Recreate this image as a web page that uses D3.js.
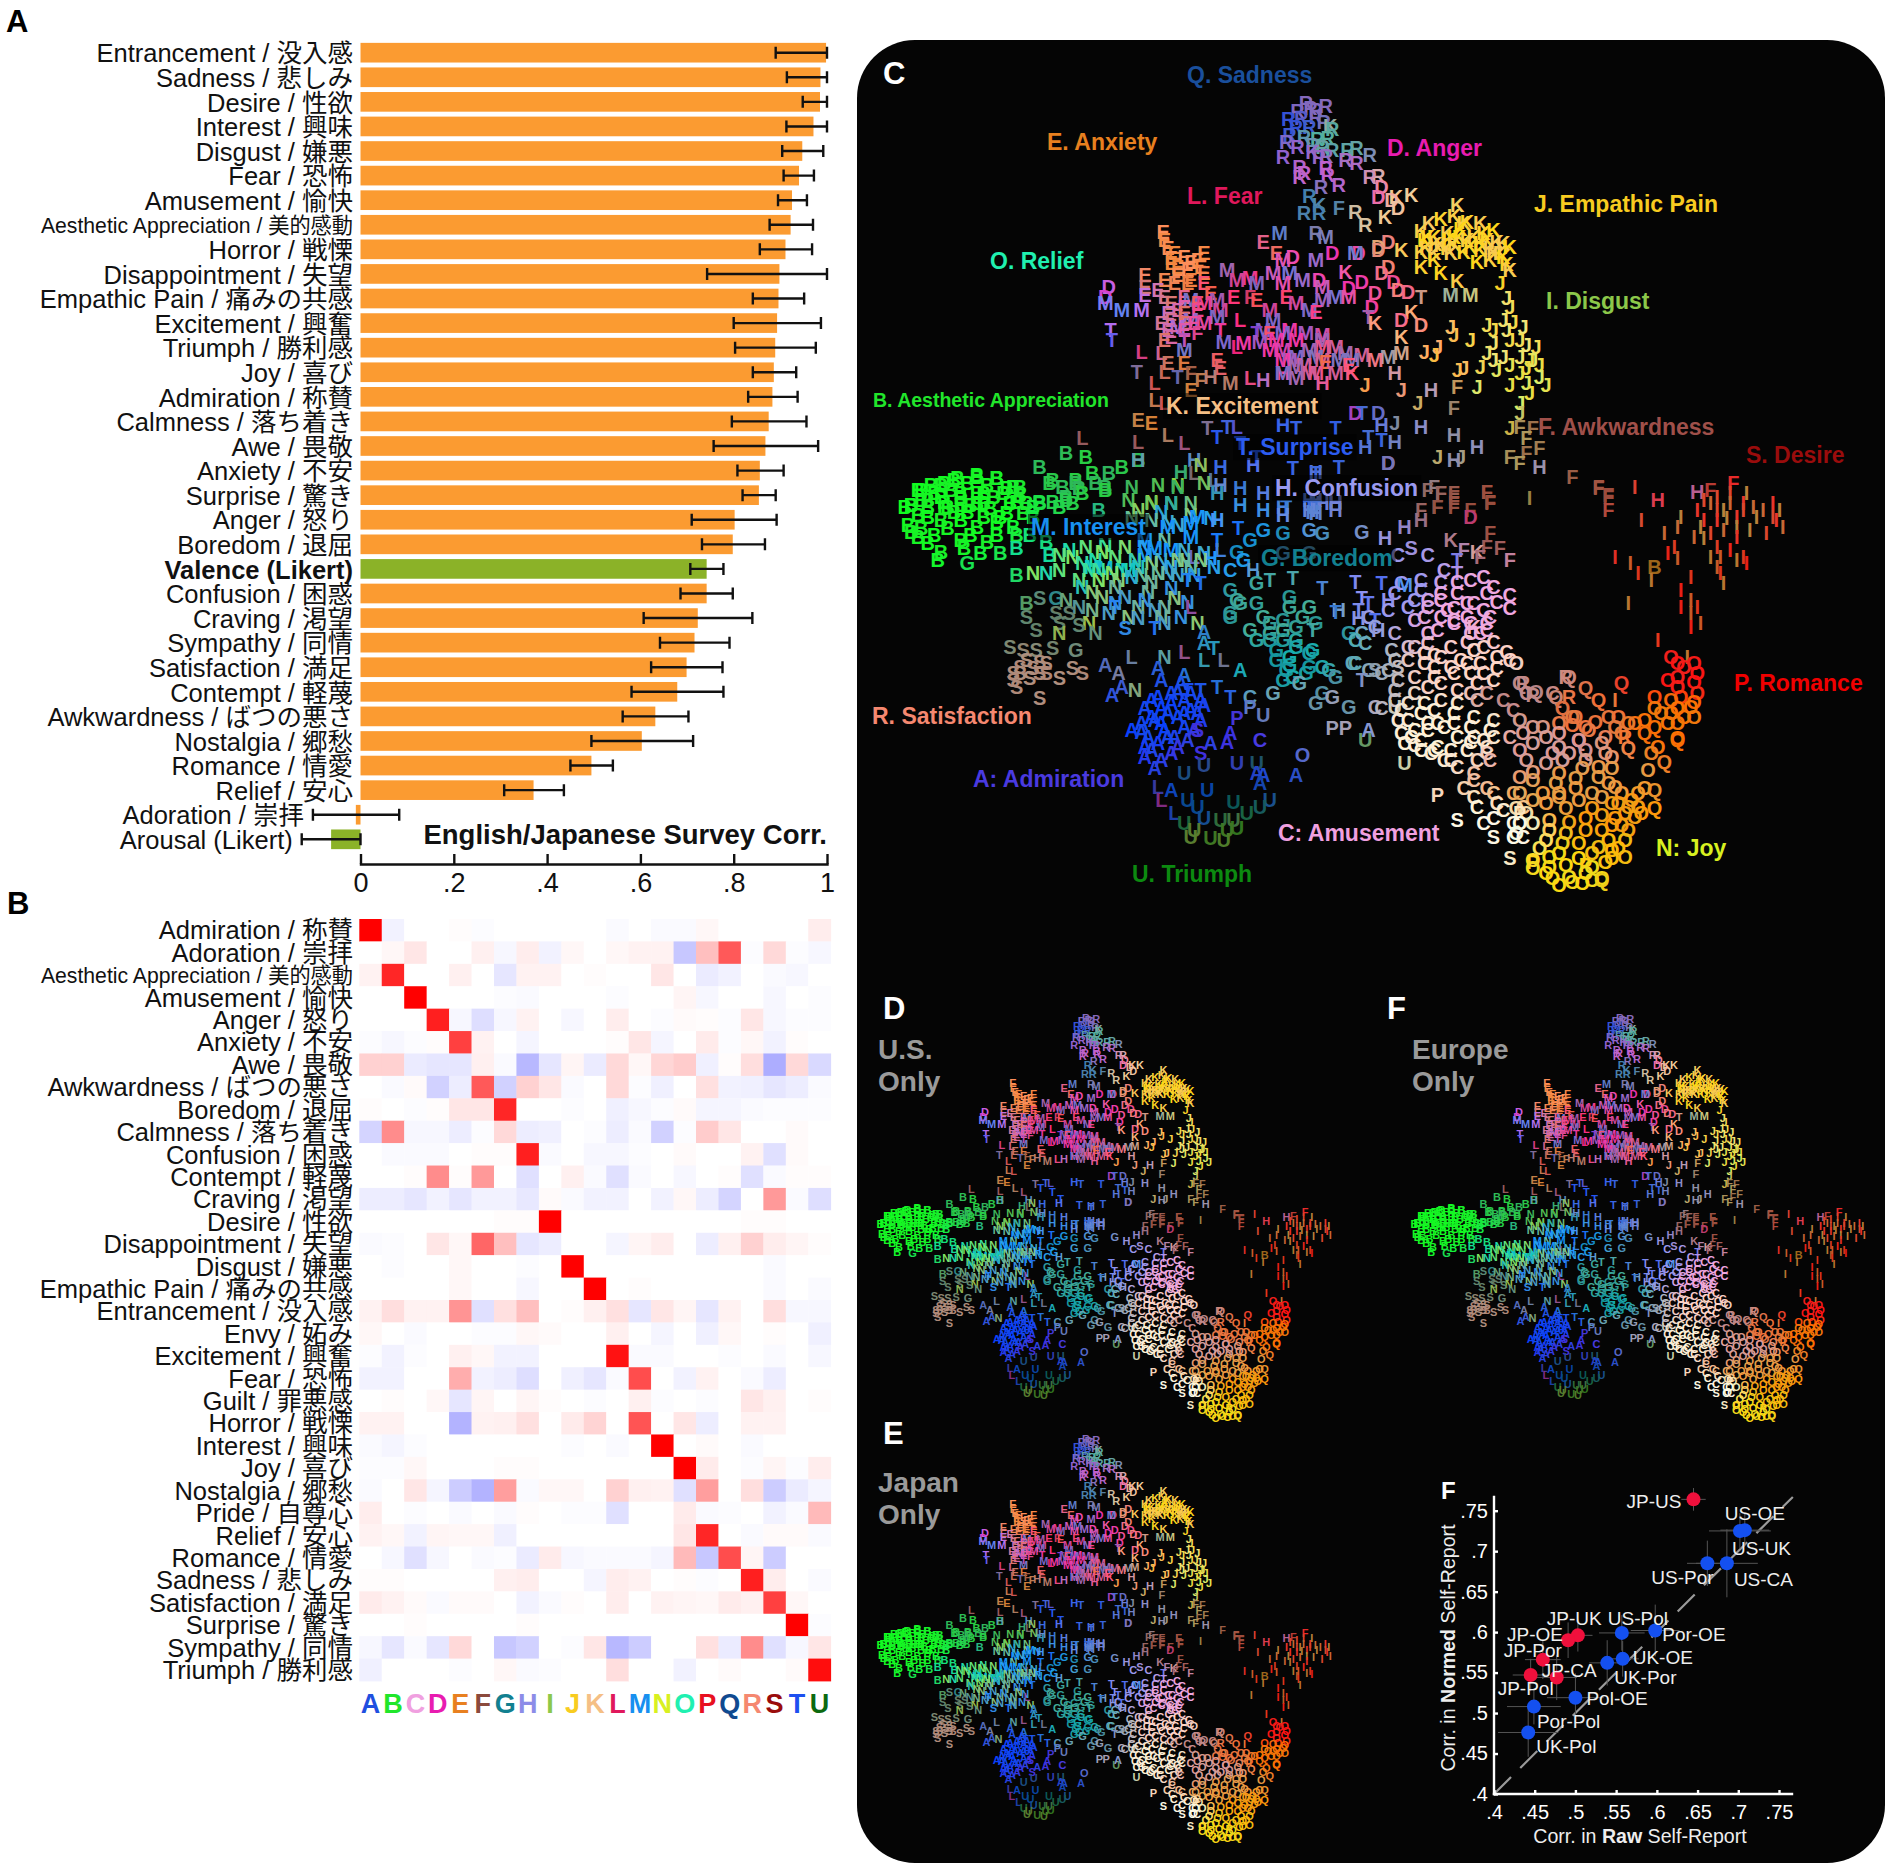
<!DOCTYPE html>
<html>
<head>
  <meta charset="UTF-8">
  <style>
    body { margin: 0; background: #fff; }
    svg { display: block; }
    text { font-family: "Liberation Sans", "Noto Sans CJK JP", sans-serif; }
    .domain { stroke-linecap: square; }
  </style>
  <script src="https://d3js.org/d3.v7.min.js"></script>
</head>
<body>
<svg id="fig" width="1890" height="1876"></svg>
<script>
// Panel A
const corrNames = ["Entrancement / 没入感","Sadness / 悲しみ","Desire / 性欲","Interest / 興味","Disgust / 嫌悪","Fear / 恐怖","Amusement / 愉快","Aesthetic Appreciation / 美的感動","Horror / 戦慄","Disappointment / 失望","Empathic Pain / 痛みの共感","Excitement / 興奮","Triumph / 勝利感","Joy / 喜び","Admiration / 称賛","Calmness / 落ち着き","Awe / 畏敬","Anxiety / 不安","Surprise / 驚き","Anger / 怒り","Boredom / 退屈","Valence (Likert)","Confusion / 困惑","Craving / 渇望","Sympathy / 同情","Satisfaction / 満足","Contempt / 軽蔑","Awkwardness / ばつの悪さ","Nostalgia / 郷愁","Romance / 情愛","Relief / 安心","Adoration / 崇拝","Arousal (Likert)"];
const corrVals = [.998,.986,.985,.971,.947,.94,.925,.922,.911,.898,.896,.893,.889,.886,.883,.875,.868,.856,.854,.802,.798,.742,.742,.723,.716,.699,.679,.632,.603,.495,.371,-.01,-.063];
const corrLow = [.89,.914,.948,.913,.904,.907,.895,.877,.856,.743,.841,.8,.803,.841,.831,.796,.757,.808,.819,.71,.732,.707,.686,.607,.642,.623,.581,.562,.495,.45,.308,-.102,-.126];
const corrHigh = [1,1,1,1,.992,.972,.957,.97,.968,1,.951,.987,.976,.934,.937,.956,.981,.907,.89,.892,.867,.778,.798,.84,.791,.776,.778,.703,.713,.541,.436,.083,0];
const corrTicks = [0,.2,.4,.6,.8,1];

// Panel B
const rowNames = ["Admiration / 称賛","Adoration / 崇拝","Aesthetic Appreciation / 美的感動","Amusement / 愉快","Anger / 怒り","Anxiety / 不安","Awe / 畏敬","Awkwardness / ばつの悪さ","Boredom / 退屈","Calmness / 落ち着き","Confusion / 困惑","Contempt / 軽蔑","Craving / 渇望","Desire / 性欲","Disappointment / 失望","Disgust / 嫌悪","Empathic Pain / 痛みの共感","Entrancement / 没入感","Envy / 妬み","Excitement / 興奮","Fear / 恐怖","Guilt / 罪悪感","Horror / 戦慄","Interest / 興味","Joy / 喜び","Nostalgia / 郷愁","Pride / 自尊心","Relief / 安心","Romance / 情愛","Sadness / 悲しみ","Satisfaction / 満足","Surprise / 驚き","Sympathy / 同情","Triumph / 勝利感"];
const colLetters = "ABCDEFGHIJKLMNOPQRSTU".split("");
const colColors = ["#1f4fe0","#21e62b","#f0a0e0","#e81cb0","#e88020","#8b4a3c","#128090","#8c8ce8","#8cc84a","#f8cc20","#f5bf85","#e0185c","#1890f0","#d8f020","#20f0b0","#e81020","#104a90","#f58870","#9a0c0c","#1c50f0","#0c6a10"];
const matrix = [
[1,-.05,0,0,.01,-.01,0,0,0,0,0,-.02,0,-.02,-.02,.03,0,0,0,0,.07],
[0,.03,.1,0,0,.06,-.03,.07,-.05,.03,0,.03,.05,.05,-.22,.25,.65,-.01,.15,-.01,-.03],
[.05,.85,0,0,.06,0,-.1,.05,.05,0,.01,0,0,.1,0,-.08,-.05,0,-.02,-.03,0],
[0,0,1,0,0,0,-.01,-.02,0,0,0,-.01,0,0,.04,-.03,0,0,-.03,0,-.01],
[0,0,0,.88,-.03,-.13,-.03,.05,0,-.03,0,.07,0,-.01,.02,.01,-.01,.1,-.03,-.01,-.01],
[-.01,-.03,-.01,.01,.75,.05,0,-.04,0,0,0,.01,.1,-.04,0,.08,-.01,.03,-.05,.01,0],
[.18,.18,-.08,-.1,-.1,.06,-.02,-.28,-.1,.04,-.08,.15,.03,.16,.2,-.06,.01,.13,-.32,.15,-.15],
[0,-.02,.02,-.18,-.07,.65,-.18,.18,.1,-.02,0,.15,-.01,-.06,0,.12,-.05,-.06,-.1,-.07,-.02],
[.01,0,-.01,.01,.1,.1,.85,0,0,-.01,0,-.06,-.03,-.01,.02,-.04,-.04,-.02,-.01,-.01,-.01],
[-.17,.45,-.03,-.03,-.07,-.01,.15,-.07,-.06,0,-.01,-.07,-.02,-.18,-.01,.2,.1,0,0,.02,0],
[0,-.02,-.02,-.02,0,.01,.01,.88,-.02,0,-.03,-.03,-.01,0,.02,0,0,.05,-.12,.02,0],
[0,0,.01,.45,.01,.4,0,-.12,0,.06,-.02,-.12,-.02,0,-.03,0,.01,-.12,-.02,.01,.01],
[-.07,-.07,-.1,-.05,-.1,-.05,-.05,-.09,.02,-.02,-.05,-.05,0,-.05,.03,-.07,-.17,0,.4,-.02,-.13],
[0,0,0,0,0,0,.01,.01,1,0,0,0,0,0,0,0,0,.01,.01,0,0],
[-.02,-.01,0,.1,.03,.6,.25,-.1,-.07,0,0,-.04,.04,.07,0,-.07,.06,.18,.07,.04,.01],
[0,-.01,0,0,.03,0,0,-.01,0,1,0,0,0,0,0,0,0,0,-.02,0,0],
[0,0,0,0,.03,0,0,-.03,0,0,1,0,.01,0,0,0,0,0,-.02,0,-.02],
[.05,.13,.05,.05,.42,-.12,.12,.25,0,.01,.06,.12,-.1,.1,.04,-.1,.05,0,.13,-.03,-.03],
[.03,0,-.02,0,0,-.01,-.01,.03,.02,0,0,.06,0,-.04,0,-.06,.03,0,.01,0,-.06],
[-.01,-.05,-.01,0,.06,.03,-.05,-.05,0,0,0,.93,-.02,-.02,0,0,-.01,0,-.02,0,-.03],
[-.05,-.05,0,0,.32,-.05,-.07,-.13,0,-.06,-.1,-.02,.7,0,-.05,.05,0,-.02,-.07,0,0],
[0,.01,0,.03,-.1,.04,0,.04,.01,0,-.01,0,.06,-.01,0,-.01,0,.1,.06,0,.01],
[.05,.05,0,0,-.3,.05,.06,.12,0,.08,.17,0,.67,0,.1,-.07,0,.05,.05,0,0],
[-.02,-.04,-.01,0,0,0,0,0,0,-.01,0,-.02,0,1,0,.02,0,-.02,0,0,0],
[-.01,-.01,.03,0,0,0,.01,.01,0,0,0,0,0,0,1,.08,0,-.01,.04,-.01,.07],
[-.02,0,.1,-.04,-.2,-.3,.38,-.02,.03,.03,0,.18,.06,.05,-.12,.38,0,.13,-.2,-.08,-.04],
[.07,0,-.01,0,-.02,0,-.02,.01,0,-.01,-.01,-.12,0,0,.08,-.02,-.01,0,-.05,-.02,.27],
[.05,.03,-.05,.04,.03,.03,-.06,0,0,0,0,0,0,0,.1,.85,0,-.02,.02,.02,-.02],
[0,-.03,-.12,-.03,0,-.02,-.01,-.08,.08,-.03,-.02,-.02,-.02,-.04,.27,-.22,.7,.04,-.2,0,0],
[.01,.01,0,0,0,0,.06,.07,0,0,-.04,.07,.05,0,.01,-.01,0,.88,.07,0,-.02],
[.08,.05,.02,-.02,.02,.02,0,-.05,-.02,.01,0,.07,0,.05,.04,.03,.08,.06,.75,.03,0],
[0,0,.01,0,0,0,0,.01,0,0,0,0,0,0,0,0,0,0,0,1,-.01],
[-.03,-.1,-.02,-.1,.15,0,-.22,-.18,0,-.01,.1,-.28,-.2,0,0,.12,-.08,.45,-.12,-.03,.1],
[-.06,0,0,0,-.01,0,.03,-.02,-.01,0,0,.13,0,0,-.05,0,.02,0,0,.02,.95]
];

// Panel C map, points read letter by letter. u,v pairs; "low" lists came off the lower crop, v shifted by lowShift
const lowShift = 1260;
const upB = [310,1240,340,1250,270,1280,290,1320,325,1330,350,1300,375,1300,395,1280,420,1260,370,1350,330,1345,310,1380,270,1390,240,1340,205,1315,175,1310,140,1320,120,1335,90,1350,150,1360,185,1360,215,1360,75,1395,100,1380,130,1400,165,1395,185,1390,235,1385,260,1400,300,1400];
const lowB = [85,90,105,75,125,70,145,55,175,45,205,55,230,80,240,105,220,85,190,75,160,70,135,90,110,100,90,120,75,135,100,140,125,125,150,110,175,100,200,110,225,130,250,130,270,125,245,160,210,170,185,170,160,155,140,155,150,180,175,200,205,185,120,180,100,170,85,165,70,195,90,205,110,225,85,230,100,250,120,275,115,300,150,240,180,280,210,280,235,265,155,265,255,225,235,225,205,225,280,245,285,285,75,215,65,140,125,145,260,170,320,130,360,150,285,70,305,80,325,60,355,70,290,125,310,110,335,100,370,80,1205,320,250,430,235,345,120,110,150,135,175,130,195,145,220,160,130,205,165,225,190,245,230,200];
const upR = [675,190,682,205,705,198,662,212,690,232,648,238,702,245,660,262,715,268,650,285,645,305,692,298,708,295,662,322,700,322,640,350,706,348,738,330,752,325,772,345,735,360,752,368,665,382,705,385,672,400,708,405,665,412,725,435,698,442,680,468,772,410,785,408,750,515,695,518,672,518,765,555,690,580,690,210,668,235,680,260,672,290,685,315,695,350,715,330];
const lowR = [1005,670,1070,650,1075,710,1020,705,1160,830];
const upK = [685,335,712,258,835,465,812,470,695,495,795,530,905,495,862,548,880,538,900,528,920,545,940,550,960,570,850,572,870,590,890,578,910,568,930,590,950,600,975,608,855,600,900,612,925,622,970,640,985,622,850,635,870,660,895,640,935,665,955,660,980,672,985,690,880,700,905,722,850,680,820,630,735,695,780,850,835,815,820,890,745,1000,915,548,945,578,965,605,892,600,872,612,940,610,955,625,908,590,858,625,860,590,880,615,900,590,920,600,940,630,960,640,975,650,890,625,915,635,870,640];
const lowK = [895,240,935,275,930,500];
const upD = [790,440,805,480,785,470,815,505,800,605,785,630,715,640,655,650,755,640,800,680,808,725,790,700,760,725,695,720,740,745,815,750,830,755,780,760,775,800,785,620,820,840,850,855,750,1118,785,1118,800,1270,375,740,370,770];
const lowD = [800,10,925,170];
const upT = [850,770,380,900,378,870,418,995,490,900,600,880,545,870,770,830,525,1165,540,1190,555,1160,575,1210,660,1165,720,1165,655,1285,725,1280,690,1300,600,1250,770,1190,790,1200,760,1120,480,1010];
const lowT = [645,140,680,140,690,140,572,205,655,355,700,385,750,365,790,370,760,415,770,430,755,450,720,455,620,360,540,240,495,360,515,370,385,440,445,505,535,565,495,690,515,690,540,680,760,660,560,710,685,510,905,300,905,340,780,480];
const upM = [635,580,705,590,750,640,640,660,555,690,625,700,650,700,590,715,690,660,545,810,395,810,425,810,370,790,620,810,625,840,650,870,675,880,700,885,550,905,580,910,605,905,640,930,660,950,700,920,735,940,760,945,490,930,560,1030,660,1015,720,1000,640,1000,690,1000,650,960,672,975,690,950,620,930,895,765,925,765,640,880,660,900,680,930,700,960,725,960,640,960,660,980,680,1000,610,870,630,900,700,900,720,920,745,960,780,960,800,950,820,940,540,830,520,850,500,840,480,860,500,780,520,790,540,780,570,720,600,730,640,730,670,720,700,740,720,770,740,770,700,780,660,790,680,810];
const lowM = [500,190,465,200,510,170,430,285,405,330,370,325,430,240,445,265,470,270,500,230,350,320,825,375];
const upE = [610,605,630,640,458,575,460,600,465,625,475,640,490,650,520,640,510,660,470,670,495,690,520,700,430,705,430,740,430,765,460,770,490,770,530,760,565,770,600,780,480,810,490,820,510,810,470,840,465,870,460,900,490,870,540,960,545,985,490,970,465,970,500,1050,420,1140,440,1150,690,815,620,880,645,770,705,965,740,975,475,730,470,655,480,680,500,665,515,680,480,705,500,720,520,730,460,720,450,750,470,790,490,800,510,790,465,820,490,850,505,850,455,850,470,890,495,730];
const upL = [425,935,455,940,445,1030,460,995,420,1205,465,1185,490,1210,570,1160,335,1195,445,1080,460,1090,575,840,570,920,590,1015,505,1300,535,1320];
const lowL = [490,575,520,600,505,290,545,270,500,440,410,590,550,600,450,980,455,1020,475,1060];
const upF = [725,505,590,770,510,880,500,1000,515,1020,900,1105,1000,1160,1020,1165,1010,1195,1030,1225,985,1250,1010,1240,1000,1270,1080,1310,1120,1340,1135,1365,870,1340,880,1360,900,1360,950,1355,955,1385,900,1400,875,1400,1290,1350,1325,1330,905,1040];
const lowF = [1120,85,1135,110,1135,150,860,90,880,100,900,110,950,95,955,130,900,130,875,140,850,150,925,150,955,220,950,260,915,270,970,265,985,300,940,290];
const upH = [700,1030,610,1020,640,1000,810,1000,530,1010,865,1050,640,1155,790,1155,810,1205,850,1160,900,1185,935,1220,900,1260,1030,1280,545,1280,595,1275,690,1295,420,1260,485,1295,505,1260,765,1220,545,1335,575,1345,610,1360,640,1400,690,1380,720,1385,680,1410,1210,1380,1270,1355];
const lowH = [540,100,540,180,610,150,640,165,685,155,720,150,575,135,825,200,795,235,725,450,785,510,755,475,530,295,595,330,850,180,800,420,680,120,700,130,690,160,720,130];
const upJ = [970,730,980,775,985,800,975,840,990,845,1005,860,950,855,895,860,925,900,875,920,900,885,960,910,985,900,1010,915,1025,920,1000,950,1015,960,960,960,940,980,965,990,1000,1000,1030,1010,1040,1035,1010,1030,985,1035,935,1040,905,990,915,985,765,1035,820,1050,845,1090,855,935,870,945,1000,1090,875,1250,910,1250,1015,1060,1000,1120,985,1165,810,1150,960,870,980,870,1000,900,1020,960,1030,975,975,950,985,975,950,940,1010,985];
const lowI = [1175,80,1015,115,1185,180,1245,170,1270,150,1290,130,1300,110,1345,100,1385,130,1320,130,1340,150,1360,170,1390,180,1400,200,1375,220,1330,200,1300,180,1265,230,1235,260,1280,235,1225,280,1240,295,1300,260,1330,300,1345,310,1300,320,1260,350,1310,370,1245,390,1260,420,1270,440,1165,430,1145,290,1168,310,1180,340,1200,360,1260,500,1275,490,1210,540,1255,590,1145,720,1220,220,1280,120,1310,150,1330,170,1355,140,1320,100,1350,210,1280,180,1240,200,1305,340,1290,290,1245,440,1260,460,1300,150,1315,175,1340,130,1370,150,1385,170,1395,150,1330,230,1310,210,1290,220,1275,200,1320,270,1305,290,1340,290];
const upN = [410,1340,440,1390,470,1390,515,1275,480,1340,520,1330];
const lowN = [405,120,440,125,470,130,500,130,465,185,500,165,530,175,410,175,450,75,480,75,315,270,340,260,370,255,400,260,430,260,460,240,490,270,320,290,355,300,385,290,415,300,440,310,470,320,500,320,345,330,380,340,410,350,440,365,465,340,360,360,335,380,385,380,310,420,350,395,385,430,420,440,445,450,475,415,495,425,455,470,420,475,345,490,355,520,300,520,460,490,510,490,485,470,490,300,520,280,260,340,280,340,300,330,460,590,415,690,535,320,440,180,480,195,420,150,455,155,300,285,335,310,365,275,395,330,425,345,455,300,480,300,505,345,330,360,360,330,390,360,420,320,450,340,480,345,515,300,470,385,435,395,400,410,365,410,330,440,350,450,375,460,405,470,430,420,460,440];
const lowG = [160,310,590,240,610,210,640,220,680,210,700,220,760,215,570,275,640,280,680,280,600,370,650,410,680,440,560,390,575,430,560,470,590,510,620,490,650,440,690,490,640,510,600,430,670,470,630,570,650,590,680,580,700,620,720,650,715,710,740,740,710,630,645,630,625,700,690,730,650,615,700,700,685,570,560,460,570,420,740,520,580,300,620,540,660,540,295,415,325,570,640,540,660,560,630,600,655,650,675,640,620,520,640,480,610,470,660,500,600,540,680,620,665,670,640,660];
const lowC = [860,285,885,330,850,360,880,365,905,365,925,360,945,350,815,285,810,400,850,390,880,420,830,440,860,440,900,445,930,430,965,425,985,405,985,445,945,450,920,470,900,490,875,510,840,480,810,520,860,520,925,520,950,510,955,470,945,560,965,590,985,600,930,570,910,600,860,550,830,600,855,610,800,630,770,630,745,610,750,540,765,550,805,570,870,620,900,640,945,640,960,660,810,720,840,700,860,680,880,670,905,690,935,720,870,750,900,760,930,770,960,780,820,750,860,790,835,830,860,810,820,820,885,800,930,830,960,830,895,870,870,870,905,920,930,940,950,880,985,830,990,750,975,720,1010,700,1050,700,780,740,790,745,590,710,750,610,840,855,850,870,865,880,885,900,925,845,950,860,605,840,560,330,840,560,870,585,895,560,920,545,940,520,960,545,980,575,965,625,940,610,925,640,880,590,855,580,830,560,810,600,790,640,815,660,840,650,870,650,895,620,920,610,935,670,950,700,925,700,905,730,880,720,855,730,830,730,810,690,830,780,850,760,875,790,900,790,925,800,955,810,945,840,920,870,895,900,875,860,850,840,825,850,815,780,840,810,905,830,935,900,955,900,900,480,925,490,950,490,880,470,855,470,880,400,905,400,950,400,960,380,860,420,920,430,890,450,840,420,820,370,800,450,770,470,780,500,760,520,930,960,950,985,960,1000,975,1050,990,1090,960,1075,935,1040,945,1090,990,1130,1005,1130,990,1000,1005,1040,930,1010,965,1030,915,985];
const lowS = [270,415,295,460,250,470,265,510,225,560,245,570,265,570,290,565,320,625,335,640,270,605,260,625,240,640,280,640,300,655,235,680,270,715,230,660,400,505,300,490,330,495,315,460,515,880,510,810,960,1130,985,1195,905,1080,835,265,815,620,780,630,250,600,270,640,280,610,240,620,255,655,230,640];
const lowO = [1000,780,1020,850,1000,870,1040,830,1060,790,1080,770,1100,800,1020,800,1090,840,1125,850,1140,890,1010,900,1050,880,1065,900,1130,880,1095,925,1060,940,1020,960,1000,950,1120,950,1135,970,1055,970,1085,985,1110,1000,1145,980,1020,1020,1040,1030,1070,1045,1110,1045,1140,1030,1170,1020,1160,1060,1145,1075,1175,1070,1140,1095,1165,1110,1135,1140,1160,1140,1140,1170,1160,1190,1130,1205,1110,1220,1090,1195,1060,1180,1090,1150,1070,1120,1045,1110,1010,1060,995,1045,995,1120,1020,1200,1045,1220,1050,1255,1075,1250,1095,1270,1125,1255,1100,1110,1000,1000,1190,985,1195,930,1210,860,1200,880,1240,835,1240,790,1230,760,1205,745,1245,710,1270,700,1260,740,1240,650,1265,665,1265,610,1240,610,1230,590,1175,790,1135,770,1150,770,1165,790,1080,795,1105,810,995,610,670,885,1035,1000,1060,1010,1090,1020,1125,1010,1155,1000,1180,1040,1150,1030,1125,1065,1100,1075,1075,1085,1045,1080,1020,1090,1000,1090,1155,1095,1125,1110,1120,1160,1150,1165,1110,1180,1140,1195,1100,1240,1070,1215,1045,1190,1030,1165,1065,1150,1040,1140,1080,1265,1060,1275,1110,1260,1040,1240,1020,1225,1180,1000,1165,1040,1185,1060,1060,860,1075,880,1100,900,1120,920,1040,910,1020,935,1085,955,1060,1000,1140,925,1005,820,1035,800,1060,820,1085,770,1115,785,1145,800,1130,830,1155,820,1190,780,1215,760,1205,710,1230,720,1250,770,1265,770,1240,745,1225,790,1270,640,1250,620,1265,725,1240,680,1225,660];
const lowQ = [1155,670,1120,720,1100,685,1075,650,1065,745,1055,710,1025,695,1000,670,1205,990,1205,1045,1220,905,1240,840,1125,1260,1165,865,1190,820,1205,800,1100,870,1090,840];
const lowP = [875,1005,715,805,735,805,590,740,570,775,1000,1060,1100,1215,1020,1205];
const lowU = [610,765,520,915,570,910,600,910,525,990,490,940,495,1020,565,1025,620,1020,605,1040,510,1040,490,1090,520,1075,545,1080,565,1080,585,1060,500,1130,530,1135,550,1140,570,1105,505,1110,555,1110,825,910,765,840,810,740];
const lowA = [390,640,380,705,395,680,370,615,575,630,520,515,520,550,450,625,490,645,455,660,485,670,430,745,455,745,490,720,520,735,425,790,455,790,480,770,515,780,435,830,460,810,490,800,470,880,440,870,430,860,445,925,470,990,610,945,605,970,660,945,600,940,530,850,555,845,770,810,500,700,470,700,560,820,510,760,450,710,480,695,440,770,465,760,500,750,425,815,450,850,475,830,505,810,495,840,430,890,455,900,480,860,445,780,470,730,490,760,440,720,465,830,410,810,515,720];
const mapSets = [["A",[],lowA],["B",upB,lowB],["C",[],lowC],["D",upD,lowD],["E",upE,[]],["F",upF,lowF],["G",[],lowG],["H",upH,lowH],["I",[],lowI],["J",upJ,[]],["K",upK,lowK],["L",upL,lowL],["M",upM,lowM],["N",upN,lowN],["O",[],lowO],["P",[],lowP],["Q",[],lowQ],["R",upR,lowR],["S",[],lowS],["T",upT,lowT],["U",[],lowU]];

// regional tint of the cloud
const tintAt = [[650,250,"#3050d8"],[680,210,"#8068c0"],[705,300,"#50b0a0"],[670,340,"#9060d0"],[700,400,"#c060d0"],[680,480,"#4080b0"],[800,480,"#f0d0a0"],[920,600,"#ffd810"],[980,900,"#f0e880"],[1020,1020,"#d8f070"],[470,650,"#ff9060"],[380,780,"#c070f0"],[650,700,"#f050b0"],[600,750,"#ff3080"],[650,920,"#ff30a0"],[700,950,"#ff5080"],[860,930,"#ffa870"],[500,1100,"#c08050"],[600,1200,"#3060f0"],[720,1200,"#4a70d0"],[900,1230,"#9090a0"],[1000,1220,"#b0a060"],[1300,1380,"#f02828"],[1000,1380,"#a05040"],[130,1420,"#10ff20"],[400,1300,"#30b060"],[350,1560,"#10d8b8"],[470,1510,"#1898ff"],[420,1680,"#2888f0"],[270,1760,"#608870"],[250,1900,"#b09080"],[460,2060,"#0840ff"],[510,2100,"#4030e0"],[520,2300,"#0840b0"],[540,2380,"#608030"],[640,1720,"#48b098"],[650,1880,"#18b0b0"],[700,1960,"#a0a0b8"],[800,1650,"#9898f0"],[920,1700,"#f0a8e0"],[940,1900,"#ffd8c8"],[900,2060,"#fff4d8"],[950,2400,"#fffce8"],[1050,2120,"#e09898"],[1100,2240,"#f09840"],[1150,2340,"#ff9808"],[1080,2480,"#ffd810"],[1140,2420,"#ffb808"],[1240,2040,"#ff7000"],[1250,1900,"#ff1010"],[1100,2020,"#f07038"],[1000,1960,"#c08888"],[1270,1650,"#f01010"]];
const letterMix = [.08,.4,.2,.55];
const quietLetters = "OQCRSP";

const clusterNames = ["Q. Sadness","E. Anxiety","D. Anger","L. Fear","J. Empathic Pain","O. Relief","I. Disgust","B. Aesthetic Appreciation","K. Excitement","F. Awkwardness","T. Surprise","S. Desire","H. Confusion","M. Interest","G. Boredom","P. Romance","R. Satisfaction","A: Admiration","C: Amusement","N: Joy","U. Triumph"];
const clusterColors = ["#1a4f9c","#e8801f","#e81cb0","#e0185c","#f8cc20","#20f0b0","#8cc84a","#21e62b","#f5bf85","#a0504a","#2c5cf0","#9a0c0c","#9a9af0","#1890f0","#128090","#f00000","#f58870","#4a3ae0","#f0a0e0","#d8f020","#0c8a10"];
const clusterX = [1187,1047,1387,1187,1534,990,1546,873,1166,1538,1236,1746,1275,1031,1261,1734,872,973,1278,1656,1132];
const clusterY = [75,142,148,196,204,261,301,400,406,427,447,455,488,527,558,683,716,779,833,848,874];
const hazed = ["K. Excitement","T. Surprise","H. Confusion","M. Interest","G. Boredom"];

// Inset scatter
const pairNames = ["JP-US","US-OE","US-UK","US-Por","US-CA","JP-UK","JP-OE","US-Pol","Por-OE","UK-OE","UK-Por","JP-Por","JP-CA","JP-Pol","Pol-OE","Por-Pol","UK-Pol"];
const rawCorr = [.645,.708,.702,.662,.686,.503,.491,.557,.598,.558,.539,.46,.477,.445,.5,.449,.442];
const normCorr = [.764,.726,.725,.685,.685,.596,.59,.599,.602,.567,.562,.566,.544,.547,.519,.508,.476];
const rawErr = [.015,.03,.038,.025,.038,.018,.015,.028,.03,.02,.022,.022,.025,.022,.035,.033,.037];
const normErr = [.014,.02,.022,.028,.042,.02,.022,.022,.032,.022,.028,.024,.028,.02,.03,.022,.03];
const labelDx = [-67,-20,-8,-56,7,-31,-61,-14,7,10,7,-39,-15,-33,11,3,8];
const labelDy = [2,-17,17,14,16,-17,-6,-15,4,-1,14,-9,-7,13,1,15,14];
const scatterTicks = [.4,.45,.5,.55,.6,.65,.7,.75];

const svg = d3.select("#fig");
const shortNum = d => String(d).replace("0.", ".");

function panelLetter(txt, x, y, col, size) {
  svg.append("text").attr("x", x).attr("y", y).attr("fill", col)
    .attr("font-weight", "bold").attr("font-size", size).text(txt);
}
panelLetter("A", 6, 32, "#000", 31);
panelLetter("B", 7, 914, "#000", 31);

// ---- A: bars ----
const corrX = d3.scaleLinear().domain([0, 1]).range([360.5, 827]);
const corrY = d3.scaleBand().domain(corrNames).range([40.4, 851.6]).paddingInner(.2).paddingOuter(.1);
const corrG = svg.append("g");

corrG.selectAll("rect").data(corrNames).enter().append("rect")
  .attr("x", (d, i) => Math.min(corrX(0), corrX(corrVals[i])))
  .attr("y", d => corrY(d))
  .attr("width", (d, i) => Math.abs(corrX(corrVals[i]) - corrX(0)))
  .attr("height", corrY.bandwidth())
  .attr("fill", d => d.includes("Likert") ? "#8bb228" : "#fb9b31");

corrNames.forEach((d, i) => {
  const mid = corrY(d) + corrY.bandwidth() / 2;
  const lo = corrX(corrLow[i]), hi = corrX(corrHigh[i]);
  corrG.append("path")
    .attr("d", `M${lo},${mid}H${hi}M${lo},${mid - 6}V${mid + 6}M${hi},${mid - 6}V${mid + 6}`)
    .attr("fill", "none").attr("stroke", "#111").attr("stroke-width", 2.4);
  corrG.append("text")
    .attr("x", i >= 31 ? lo - 9 : 353).attr("y", mid).attr("dy", "0.38em")
    .attr("text-anchor", "end")
    .attr("font-size", d.startsWith("Aesthetic") ? 21.2 : 25.5)
    .attr("font-weight", d.startsWith("Valence") ? "bold" : "normal")
    .attr("fill", "#111").text(d);
});

svg.append("g").attr("transform", "translate(0,864)")
  .call(d3.axisBottom(corrX).tickValues(corrTicks).tickFormat(shortNum).tickSize(-10).tickSizeOuter(0).tickPadding(9))
  .call(g => g.selectAll("path,line").attr("stroke", "#111").attr("stroke-width", 2.4))
  .call(g => g.selectAll("text").attr("font-size", 27).attr("fill", "#111").attr("font-family", null));

svg.append("text").attr("x", 827).attr("y", 844).attr("text-anchor", "end")
  .attr("font-size", 27.5).attr("font-weight", "bold").attr("fill", "#111").text("English/Japanese Survey Corr.");

// ---- B: heat map ----
const cellX = d3.scaleBand().domain(colLetters).range([359.3, 830.7]);
const cellY = d3.scaleBand().domain(rowNames).range([919, 1681]);
const heat = d3.scaleLinear().domain([-1, 0, 1]).range(["#0000ff", "#ffffff", "#ff0000"]);
const heatG = svg.append("g");

matrix.forEach((row, r) => {
  heatG.selectAll(null).data(row).enter().append("rect")
    .attr("x", (d, c) => cellX(colLetters[c]))
    .attr("y", cellY(rowNames[r]))
    .attr("width", cellX.bandwidth() + .4)
    .attr("height", cellY.bandwidth() + .4)
    .attr("fill", d => heat(d));
});

heatG.selectAll("text.row").data(rowNames).enter().append("text")
  .attr("x", 353).attr("y", d => cellY(d) + cellY.bandwidth() / 2).attr("dy", "0.36em")
  .attr("text-anchor", "end").attr("fill", "#111")
  .attr("font-size", d => d.startsWith("Aesthetic") ? 21.2 : 25.5)
  .text(d => d);

heatG.selectAll("text.col").data(colLetters).enter().append("text")
  .attr("x", d => cellX(d) + cellX.bandwidth() / 2).attr("y", 1713)
  .attr("text-anchor", "middle").attr("font-weight", "bold").attr("font-size", 27)
  .attr("fill", (d, i) => colColors[i]).text(d => d);

// ---- C-F black card ----
svg.append("rect").attr("x", 857).attr("y", 40).attr("width", 1028).attr("height", 1823)
  .attr("rx", 58).attr("fill", "#050505");

const tintRgb = tintAt.map(t => [t[0], t[1], d3.rgb(t[2])]);
function tintFor(u, v, letter, n) {
  let w = 0, r = 0, g = 0, b = 0;
  tintRgb.forEach(t => {
    const dd = (u - t[0]) * (u - t[0]) + (v - t[1]) * (v - t[1]) + 400;
    const k = 1 / (dd * dd * dd);
    w += k; r += k * t[2].r; g += k * t[2].g; b += k * t[2].b;
  });
  const base = d3.rgb(colColors[colLetters.indexOf(letter)]);
  let m = letterMix[n % letterMix.length];
  if (quietLetters.includes(letter)) m *= .12;
  return d3.rgb((1 - m) * r / w + m * base.r, (1 - m) * g / w + m * base.g, (1 - m) * b / w + m * base.b).formatHex();
}

const mapPoints = [];
mapSets.forEach(([letter, up, low]) => {
  for (let i = 0; i < up.length; i += 2) mapPoints.push({ letter, u: up[i], v: up[i + 1] });
  for (let i = 0; i < low.length; i += 2) mapPoints.push({ letter, u: low[i], v: low[i + 1] + lowShift });
});
mapPoints.forEach((p, n) => { p.col = tintFor(p.u, p.v, p.letter, n); });
mapPoints.sort((a, b) => a.v - b.v);

function drawMap(xr, yr, size) {
  const x = d3.scaleLinear().domain([0, 1560]).range(xr);
  const y = d3.scaleLinear().domain([0, 2700]).range(yr);
  svg.append("g").selectAll("text").data(mapPoints).enter().append("text")
    .attr("x", d => x(d.u)).attr("y", d => y(d.v)).attr("dy", "0.35em")
    .attr("text-anchor", "middle").attr("font-size", size).attr("font-weight", "bold")
    .attr("fill", d => d.col).text(d => d.letter);
}

drawMap([862, 1888], [40, 940], 20);
drawMap([858.5, 1384.3], [985.3, 1446.5], 11);        // D
drawMap([1392.5, 1918.3], [985.3, 1446.5], 11);       // Europe
drawMap([858.5, 1384.3], [1406.3, 1867.5], 11);       // E

const labelG = svg.append("g");
clusterNames.forEach((d, i) => {
  const t = labelG.append("text").attr("x", clusterX[i]).attr("y", clusterY[i]).attr("dy", "0.35em")
    .attr("font-weight", "bold").attr("fill", clusterColors[i])
    .attr("font-size", d.startsWith("B.") ? 19.5 : 23).text(d);
  if (hazed.includes(d)) {
    const b = t.node().getBBox();
    labelG.insert("rect", "text").attr("x", b.x - 3).attr("y", b.y).attr("width", b.width + 6).attr("height", b.height)
      .attr("fill", "#000").attr("opacity", .5);
  }
});

panelLetter("C", 883, 84, "#fff", 31);
panelLetter("D", 883, 1019, "#fff", 31);
panelLetter("F", 1387, 1019, "#fff", 31);
panelLetter("E", 883, 1444, "#fff", 31);

function greyLines(x, lines, ys) {
  lines.forEach((t, i) => {
    svg.append("text").attr("x", x).attr("y", ys[i]).attr("fill", "#9a9a9a")
      .attr("font-size", 28).attr("font-weight", "bold").text(t);
  });
}
greyLines(878, ["U.S.", "Only"], [1059, 1091]);
greyLines(1412, ["Europe", "Only"], [1059, 1091]);
greyLines(878, ["Japan", "Only"], [1492, 1524]);

// ---- F: raw vs normed scatter ----
const rawX = d3.scaleLinear().domain([.4, .75]).range([1494, 1779]);
const normY = d3.scaleLinear().domain([.4, .75]).range([1794, 1510.7]);
const scat = svg.append("g");

scat.append("line").attr("x1", rawX(.4)).attr("y1", normY(.4)).attr("x2", rawX(.767)).attr("y2", normY(.767))
  .attr("stroke", "#9a9a9a").attr("stroke-width", 2.2).attr("stroke-dasharray", "24 13");

pairNames.forEach((d, i) => {
  const cx = rawX(rawCorr[i]), cy = normY(normCorr[i]);
  scat.append("path")
    .attr("d", `M${rawX(rawCorr[i] - rawErr[i])},${cy}H${rawX(rawCorr[i] + rawErr[i])}M${cx},${normY(normCorr[i] - normErr[i])}V${normY(normCorr[i] + normErr[i])}`)
    .attr("stroke", "#555").attr("stroke-width", 1).attr("fill", "none");
});

scat.selectAll("circle").data(pairNames).enter().append("circle")
  .attr("cx", (d, i) => rawX(rawCorr[i])).attr("cy", (d, i) => normY(normCorr[i])).attr("r", 7)
  .attr("fill", d => d.startsWith("JP") ? "#f0103c" : "#1450f0");

scat.selectAll("text.pair").data(pairNames).enter().append("text")
  .attr("x", (d, i) => rawX(rawCorr[i]) + labelDx[i])
  .attr("y", (d, i) => normY(normCorr[i]) + labelDy[i]).attr("dy", "0.35em")
  .attr("font-size", 19).attr("fill", "#eee").text(d => d);

svg.append("g").attr("transform", "translate(0,1794)")
  .call(d3.axisBottom(rawX).tickValues(scatterTicks).tickFormat(shortNum).tickSize(-4).tickSizeOuter(0).tickPadding(11))
  .call(g => g.select(".domain").attr("d", "M1494,0H1792"))
  .call(g => g.selectAll("path,line").attr("stroke", "#fff").attr("stroke-width", 2.4))
  .call(g => g.selectAll("text").attr("fill", "#fff").attr("font-size", 20).attr("font-family", null));

svg.append("g").attr("transform", "translate(1494,0)")
  .call(d3.axisLeft(normY).tickValues(scatterTicks).tickFormat(shortNum).tickSize(-4).tickSizeOuter(0).tickPadding(6))
  .call(g => g.select(".domain").attr("d", "M0,1794V1497"))
  .call(g => g.selectAll("path,line").attr("stroke", "#fff").attr("stroke-width", 2.4))
  .call(g => g.selectAll("text").attr("fill", "#fff").attr("font-size", 20).attr("font-family", null));

const xTitle = svg.append("text").attr("x", 1640).attr("y", 1843).attr("text-anchor", "middle")
  .attr("font-size", 19.6).attr("fill", "#eee");
xTitle.append("tspan").text("Corr. in ");
xTitle.append("tspan").attr("font-weight", "bold").text("Raw");
xTitle.append("tspan").text(" Self-Report");

const yTitle = svg.append("text").attr("transform", "translate(1455,1648) rotate(-90)").attr("text-anchor", "middle")
  .attr("font-size", 19.6).attr("fill", "#eee");
yTitle.append("tspan").text("Corr. in ");
yTitle.append("tspan").attr("font-weight", "bold").text("Normed");
yTitle.append("tspan").text(" Self-Report");

panelLetter("F", 1441, 1499, "#fff", 24);
</script>
</body>
</html>
